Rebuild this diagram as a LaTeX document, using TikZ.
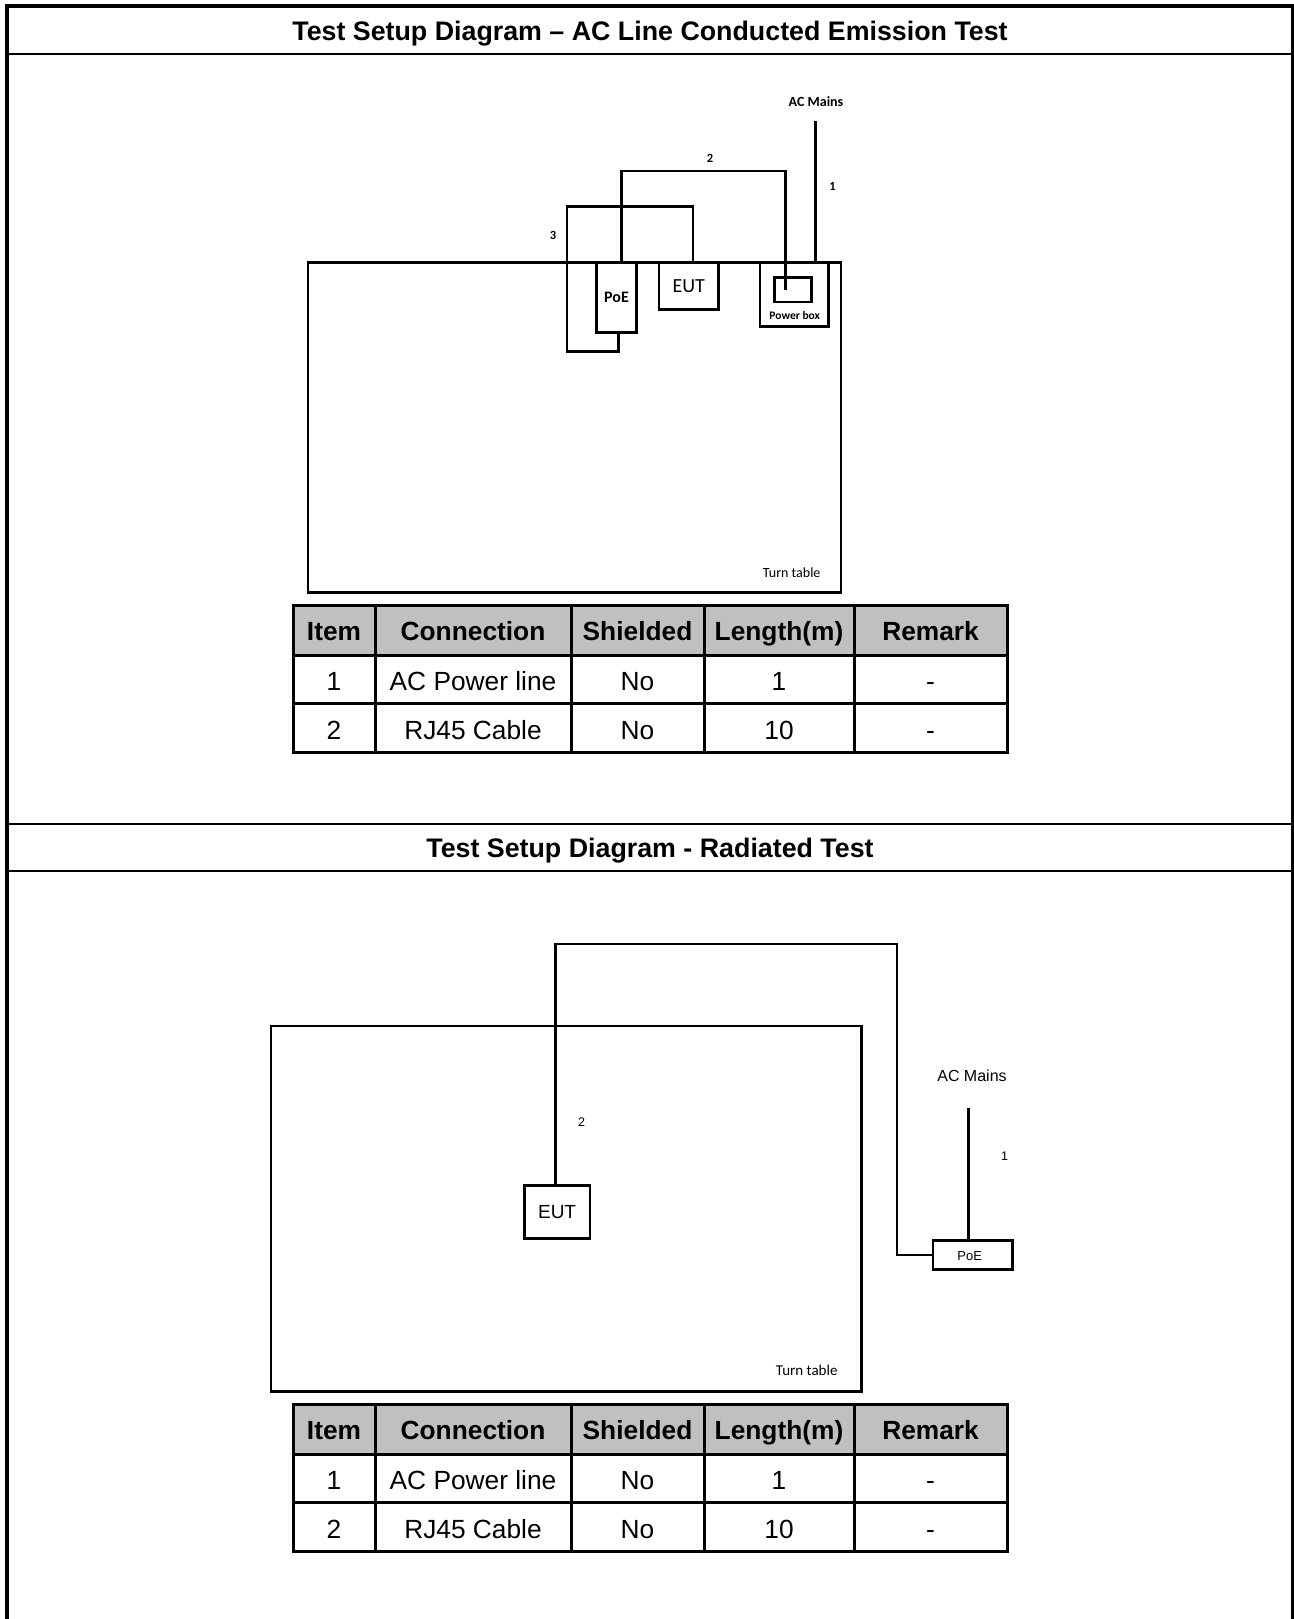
\documentclass[tikz,border=0pt]{standalone}
\usepackage{fontspec}
\setmainfont{Liberation Sans}
\newfontfamily\calfont{Carlito}
\definecolor{hdrgray}{HTML}{C0C0C0}
\newcommand\mytab[2]{%
  \fill[hdrgray] (293,#1) rectangle (1007,#1+50);
  \draw[gridline] (293,#1) rectangle (1007,#1+147);
  \draw[gridline] (293,#1+50) -- (1007,#1+50);
  \draw[gridline] (293,#1+98) -- (1007,#1+98);
  \foreach \cx in {375,571,704,854} \draw[gridline] (\cx,#1) -- (\cx,#1+147);
  \node[hcell] (#2h1) at (334,#1+35) {Item};
  \node[hcell] (#2h2) at (473,#1+35) {Connection};
  \node[hcell] (#2h3) at (637.5,#1+35) {Shielded};
  \node[hcell] (#2h4) at (779,#1+35) {Length(m)};
  \node[hcell] (#2h5) at (930.5,#1+35) {Remark};
  \node[cell] (#2a1) at (334,#1+85) {1};
  \node[cell] (#2a2) at (473,#1+85) {AC Power line};
  \node[cell] (#2a3) at (637.5,#1+85) {No};
  \node[cell] (#2a4) at (779,#1+85) {1};
  \node[cell] (#2a5) at (930.5,#1+85) {-};
  \node[cell] (#2b1) at (334,#1+134) {2};
  \node[cell] (#2b2) at (473,#1+134) {RJ45 Cable};
  \node[cell] (#2b3) at (637.5,#1+134) {No};
  \node[cell] (#2b4) at (779,#1+134) {10};
  \node[cell] (#2b5) at (930.5,#1+134) {-};
}
\begin{document}
\begin{tikzpicture}[x=1pt,y=-1pt,
  sepline/.style={line width=2.4pt},
  ttable/.style={draw, line width=2.6pt, inner sep=0pt},
  devbox/.style={draw, line width=2.6pt, inner sep=0pt},
  cable/.style={line width=2.6pt},
  gridline/.style={line width=3pt},
  ttl/.style={font=\fontsize{26.8}{30}\selectfont\bfseries, anchor=base, inner sep=0pt},
  cell/.style={font=\fontsize{26.3}{30}\selectfont, anchor=base, inner sep=0pt},
  hcell/.style={font=\fontsize{26.3}{30}\selectfont\bfseries, anchor=base, inner sep=0pt},
  lbl/.style={inner sep=0pt},
]
\useasboundingbox (0,0) rectangle (1293,1619);
% outer frame
\draw[line width=4pt] (5,6.5) -- (1293,6.5);
\draw[line width=3.5pt] (7,4.5) -- (7,1619);
\draw[line width=3pt] (1292.5,4.5) -- (1292.5,1619);
\draw[sepline] (7,54.3) -- (1292,54.3);
\draw[sepline] (7,824) -- (1292,824);
\draw[sepline] (7,871) -- (1292,871);
\node[ttl] (title1) at (650,40.5) {Test Setup Diagram – AC Line Conducted Emission Test};
\node[ttl] (title2) at (650,857.5) {Test Setup Diagram - Radiated Test};

% ---------- conducted emission diagram ----------
\node[ttable, minimum width=533pt, minimum height=330pt] (tt1) at (574.5,427.3) {};
\node[devbox, minimum width=40pt, minimum height=70.4pt, font=\calfont\bfseries\fontsize{16}{18}\selectfont] (poe1) at (616.5,297.5) {PoE};
\node[devbox, minimum width=59.4pt, minimum height=47.3pt, font=\calfont\fontsize{20}{22}\selectfont] (eut1) at (688.7,285.7) {EUT};
\node[devbox, minimum width=68.7pt, minimum height=64.7pt] (pbox) at (794.2,294.4) {};
\node[devbox, minimum width=37pt, minimum height=24.7pt] (pin) at (793.2,289.7) {};
\node[lbl, font=\calfont\bfseries\fontsize{11.5}{13}\selectfont] (pblbl) at (794.7,316) {Power box};
\node[lbl, font=\calfont\bfseries\fontsize{14}{16}\selectfont] (ac1) at (816,102) {AC Mains};
\node[lbl, font=\calfont\bfseries\fontsize{12.5}{14}\selectfont] (n1a) at (832.5,186.7) {1};
\node[lbl, font=\calfont\bfseries\fontsize{12.5}{14}\selectfont] (n2a) at (710,158.3) {2};
\node[lbl, font=\calfont\bfseries\fontsize{12.5}{14}\selectfont] (n3a) at (553,235.7) {3};
\node[lbl, font=\calfont\fontsize{14}{16}\selectfont] (tt1lbl) at (791.7,573) {Turn table};
\coordinate (ac1end) at (815.5,120.7);
\draw[cable] (ac1end) -- (ac1end |- pbox.north);
\coordinate (c2t) at (621.6,171);
\coordinate (c2e) at (785.3,290);
\draw[cable] (poe1.north -| c2t) -- (c2t) -| (c2e);
\coordinate (c3tr) at (693,206.7);
\coordinate (c3tl) at (567,206.7);
\coordinate (c3bl) at (567,351.7);
\coordinate (c3br) at (618.4,351.7);
\draw[cable] (c3tr |- eut1.north) -- (c3tr) -- (c3tl) -- (c3bl) -- (c3br) -- (c3br |- poe1.south);

\mytab{605}{ta}

% ---------- radiated diagram ----------
\node[ttable, minimum width=590.9pt, minimum height=365.7pt] (tt2) at (566.25,1208.85) {};
\node[devbox, minimum width=65.8pt, minimum height=52.6pt, font=\fontsize{19}{21}\selectfont] (eut2) at (557.1,1212) {EUT};
\node[devbox, minimum width=79.5pt, minimum height=28.6pt] (poe2) at (972.75,1255) {};
\node[lbl, font=\fontsize{13}{15}\selectfont] (poe2lbl) at (969.7,1255.7) {PoE};
\node[lbl, font=\fontsize{16}{18}\selectfont] (ac2) at (972,1075.7) {AC Mains};
\node[lbl, font=\fontsize{12.5}{14}\selectfont] (n1b) at (1004.6,1155.7) {1};
\node[lbl, font=\fontsize{12.5}{14}\selectfont] (n2b) at (581.7,1122.3) {2};
\node[lbl, font=\calfont\fontsize{15}{17}\selectfont] (tt2lbl) at (806.7,1370) {Turn table};
\coordinate (ac2end) at (968.2,1108.3);
\draw[cable] (ac2end) -- (ac2end |- poe2.north);
\coordinate (r2a) at (555.2,944);
\coordinate (r2b) at (897,944);
\draw[cable] (r2a |- eut2.north) -- (r2a) -- (r2b) |- (poe2.west);

\mytab{1404.5}{tb}
\end{tikzpicture}
\end{document}
